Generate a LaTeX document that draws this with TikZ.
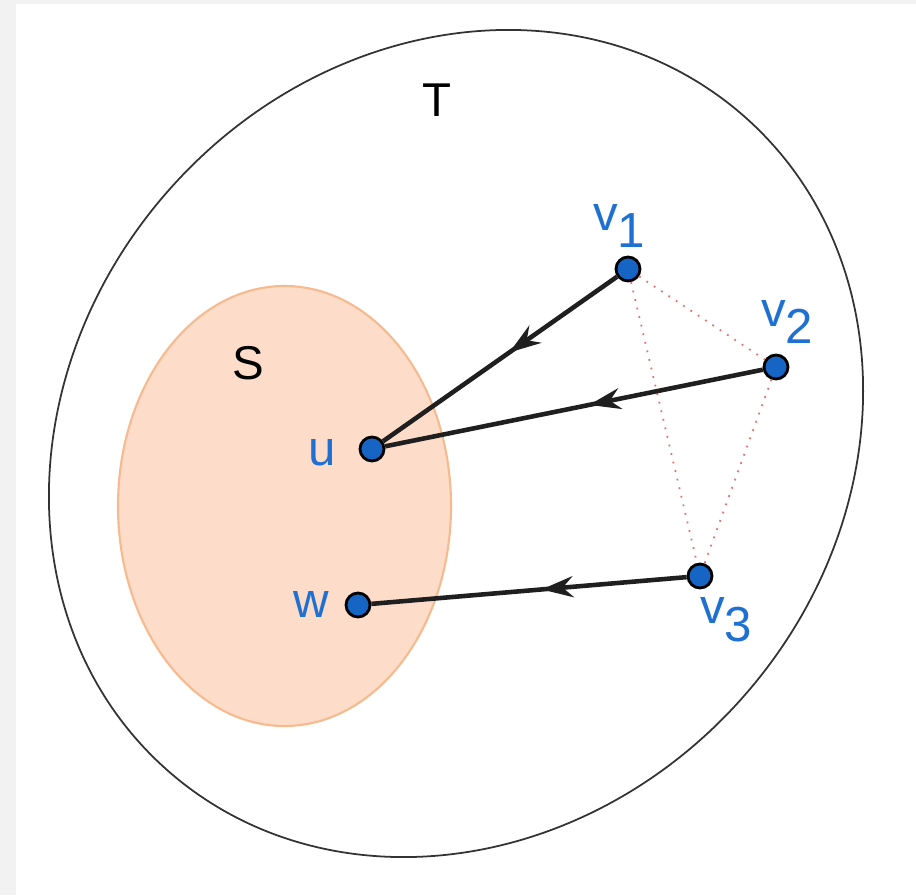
\documentclass[tikz,border=0pt]{standalone}
\usepackage{fontspec}
\setmainfont{Liberation Sans}
\usetikzlibrary{arrows.meta,decorations.markings}

\definecolor{dotblue}{RGB}{22,100,196}
\definecolor{labelblue}{RGB}{30,112,210}
\definecolor{peachfill}{RGB}{253,221,202}
\definecolor{peachline}{RGB}{247,186,142}
\definecolor{linkred}{RGB}{232,110,110}

\tikzset{
  vertex/.style={circle, draw=black, line width=0.8pt, fill=dotblue, minimum size=0.24cm, inner sep=0pt},
  vlabel/.style={text=labelblue, inner sep=0pt, font=\fontsize{14}{16}\selectfont},
  setlabel/.style={inner sep=0pt, font=\fontsize{13.5}{16}\selectfont},
  pull/.style={draw=black!88, line width=1.3pt, postaction={decorate},
    decoration={markings, mark=at position 0.46 with {\arrow{Stealth[length=9pt,width=6pt,inset=3pt]}}}},
  tie/.style={draw=linkred, line width=0.5pt, dotted}
}

\begin{document}
\begin{tikzpicture}
\useasboundingbox (0,0) rectangle (9.16,-8.95);
\fill[black!5] (0,0) rectangle (9.16,-8.95);
\fill[white] (0.16,-0.04) rectangle (9.16,-8.95);

% the two sets
\draw[black!80, line width=0.5pt, rotate around={48.5:(4.56,-4.435)}] (4.56,-4.435) ellipse (4.36cm and 3.83cm);
\draw[peachline, fill=peachfill, line width=0.6pt] (2.845,-5.06) ellipse (1.665cm and 2.2cm);
\node[setlabel] (tname) at (4.37,-1.00) {T};
\node[setlabel] (sname) at (2.48,-3.63) {S};

% vertices
\node[vertex] (u) at (3.72,-4.49) {};
\node[vertex] (w) at (3.58,-6.05) {};
\node[vertex] (v1) at (6.28,-2.69) {};
\node[vertex] (v2) at (7.76,-3.67) {};
\node[vertex] (v3) at (7.00,-5.76) {};

\node[vlabel] (ulabel) at (3.22,-4.53) {u};
\node[vlabel] (wlabel) at (3.11,-6.04) {w};
\node[vlabel] (v1label) at (6.19,-2.26) {v\raisebox{-5pt}{1}};
\node[vlabel] (v2label) at (7.87,-3.22) {v\raisebox{-5pt}{2}};
\node[vlabel] (v3label) at (7.26,-6.20) {v\raisebox{-5pt}{3}};

% links
\draw[tie] (v1) -- (v2);
\draw[tie] (v1) -- (v3);
\draw[tie] (v2) -- (v3);
\draw[pull] (v1) -- (u);
\draw[pull] (v2) -- (u);
\draw[pull] (v3) -- (w);
\end{tikzpicture}
\end{document}
